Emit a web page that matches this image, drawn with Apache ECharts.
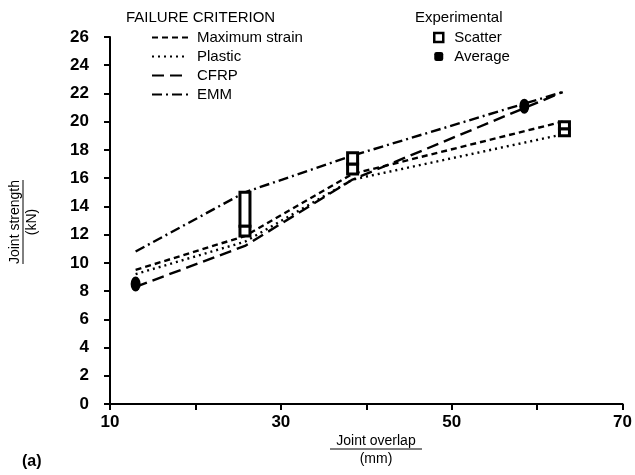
<!DOCTYPE html>
<html>
<head>
<meta charset="utf-8">
<script src="https://cdn.jsdelivr.net/npm/echarts@6/dist/echarts.min.js"></script>
<style>
  html, body { margin: 0; padding: 0; background: #fff; }
  #chart { width: 635px; height: 475px; }
</style>
</head>
<body>
<div id="chart"></div>
<script>
// joint overlap (mm) where the predicted curves are drawn
const lineX = [13, 25.8, 38.4, 63];
// predicted joint strength (kN), one array per failure criterion
const maxStrain = [9.5, 11.9, 16.3, 20.0];
const plastic = [9.2, 11.5, 15.9, 19.1];
const cfrp = [8.3, 11.2, 15.9, 22.1];
const emm = [10.8, 15.0, 17.6, 22.1];

// experimental scatter bands: overlap, low, high
const scatterX = [25.8, 25.8, 38.4, 38.4, 63.2, 63.2];
const scatterLow = [12.6, 11.9, 16.3, 17.0, 19.0, 19.5];
const scatterHigh = [15.0, 12.6, 17.0, 17.8, 19.5, 20.0];

// experimental averages
const avgX = [13, 58.5];
const avgY = [8.5, 21.1];

const xTicks = [10, 30, 50, 70];

const tickFont = 'Liberation Sans, Arial, sans-serif';
const textFont = 'Liberation Sans, Arial, sans-serif';

const pairs = (xs, ys) => xs.map((x, i) => [x, ys[i]]);

function lineSeries(name, ys, type) {
  return {
    name: name,
    type: 'line',
    data: pairs(lineX, ys),
    symbol: 'none',
    smooth: false,
    lineStyle: { color: '#000', width: 2.4, type: type },
    itemStyle: { color: '#000' },
    z: 2
  };
}

const chart = echarts.init(document.getElementById('chart'));

const option = {
  backgroundColor: '#fff',
  animation: false,
  title: [
    { text: 'FAILURE CRITERION', left: 121, top: 5,
      textStyle: { fontFamily: textFont, fontSize: 15, fontWeight: 'normal', color: '#000' } },
    { text: 'Experimental', left: 410, top: 5,
      textStyle: { fontFamily: textFont, fontSize: 15, fontWeight: 'normal', color: '#000' } }
  ],
  legend: [
    {
      data: ['Maximum strain', 'Plastic', 'CFRP', 'EMM'],
      orient: 'vertical',
      left: 146, top: 25,
      itemWidth: 36, itemHeight: 14, itemGap: 4,
      itemStyle: { opacity: 0 },
      textStyle: { fontFamily: textFont, fontSize: 15, lineHeight: 14, color: '#000', padding: [0, 0, 0, 4] },
      selectedMode: false
    },
    {
      data: [
        { name: 'Scatter', icon: 'rect', itemStyle: { color: '#fff', borderColor: '#000', borderWidth: 2.5 } },
        { name: 'Average', icon: 'roundRect', itemStyle: { color: '#000' } }
      ],
      orient: 'vertical',
      left: 428, top: 25,
      itemWidth: 9, itemHeight: 9, itemGap: 4,
      textStyle: { fontFamily: textFont, fontSize: 15, lineHeight: 14, color: '#000', padding: [0, 0, 0, 6] },
      selectedMode: false
    }
  ],
  grid: { left: 110, right: 8, top: 37, bottom: 71 },
  xAxis: {
    type: 'value',
    min: 10, max: 70, interval: 10,
    axisLine: { lineStyle: { color: '#000', width: 2 } },
    axisTick: { length: 6, lineStyle: { color: '#000', width: 2 } },
    splitLine: { show: false },
    axisLabel: {
      margin: 10,
      color: '#000',
      fontFamily: tickFont, fontSize: 17, fontWeight: 'bold',
      formatter: v => (xTicks.indexOf(v) >= 0 ? String(v) : '')
    }
  },
  yAxis: {
    type: 'value',
    min: 0, max: 26, interval: 2,
    axisLine: { show: true, lineStyle: { color: '#000', width: 2 } },
    axisTick: { show: true, length: 6, lineStyle: { color: '#000', width: 2 } },
    splitLine: { show: false },
    axisLabel: {
      margin: 21,
      color: '#000',
      fontFamily: tickFont, fontSize: 17, fontWeight: 'bold'
    }
  },
  graphic: [
    { type: 'text', x: 24, y: 222, rotation: Math.PI / 2,
      style: { text: 'Joint strength\n(kN)', fontFamily: textFont, fontSize: 14, lineHeight: 17,
               align: 'center', verticalAlign: 'middle', fill: '#000' } },
    { type: 'line', shape: { x1: 23, y1: 180, x2: 23, y2: 264 }, style: { stroke: '#000', lineWidth: 1 } },
    { type: 'text', x: 376, y: 450,
      style: { text: 'Joint overlap\n(mm)', fontFamily: textFont, fontSize: 14, lineHeight: 18,
               align: 'center', verticalAlign: 'middle', fill: '#000' } },
    { type: 'line', shape: { x1: 330, y1: 449, x2: 422, y2: 449 }, style: { stroke: '#000', lineWidth: 1 } },
    { type: 'text', x: 22, y: 462,
      style: { text: '(a)', fontFamily: textFont, fontSize: 16, fontWeight: 'bold',
               verticalAlign: 'middle', fill: '#000' } }
  ],
  series: [
    lineSeries('Maximum strain', maxStrain, [6, 4]),
    lineSeries('Plastic', plastic, [2, 4]),
    lineSeries('CFRP', cfrp, [12, 6]),
    lineSeries('EMM', emm, [10, 4, 2, 4]),
    {
      name: 'Scatter',
      type: 'custom',
      data: scatterX.map((x, i) => [x, scatterLow[i], scatterHigh[i]]),
      encode: { x: 0, y: [1, 2] },
      renderItem: function (params, api) {
        const lo = api.coord([api.value(0), api.value(1)]);
        const hi = api.coord([api.value(0), api.value(2)]);
        const w = 10;
        return {
          type: 'rect',
          shape: { x: lo[0] - w / 2, y: hi[1], width: w, height: Math.max(lo[1] - hi[1], 6) },
          style: { fill: '#fff', stroke: '#000', lineWidth: 3 }
        };
      },
      z: 5
    },
    {
      name: 'Average',
      type: 'scatter',
      data: pairs(avgX, avgY),
      symbol: 'circle',
      symbolSize: [10, 15],
      itemStyle: { color: '#000', opacity: 1 },
      z: 6
    }
  ]
};

chart.setOption(option);
</script>
</body>
</html>
